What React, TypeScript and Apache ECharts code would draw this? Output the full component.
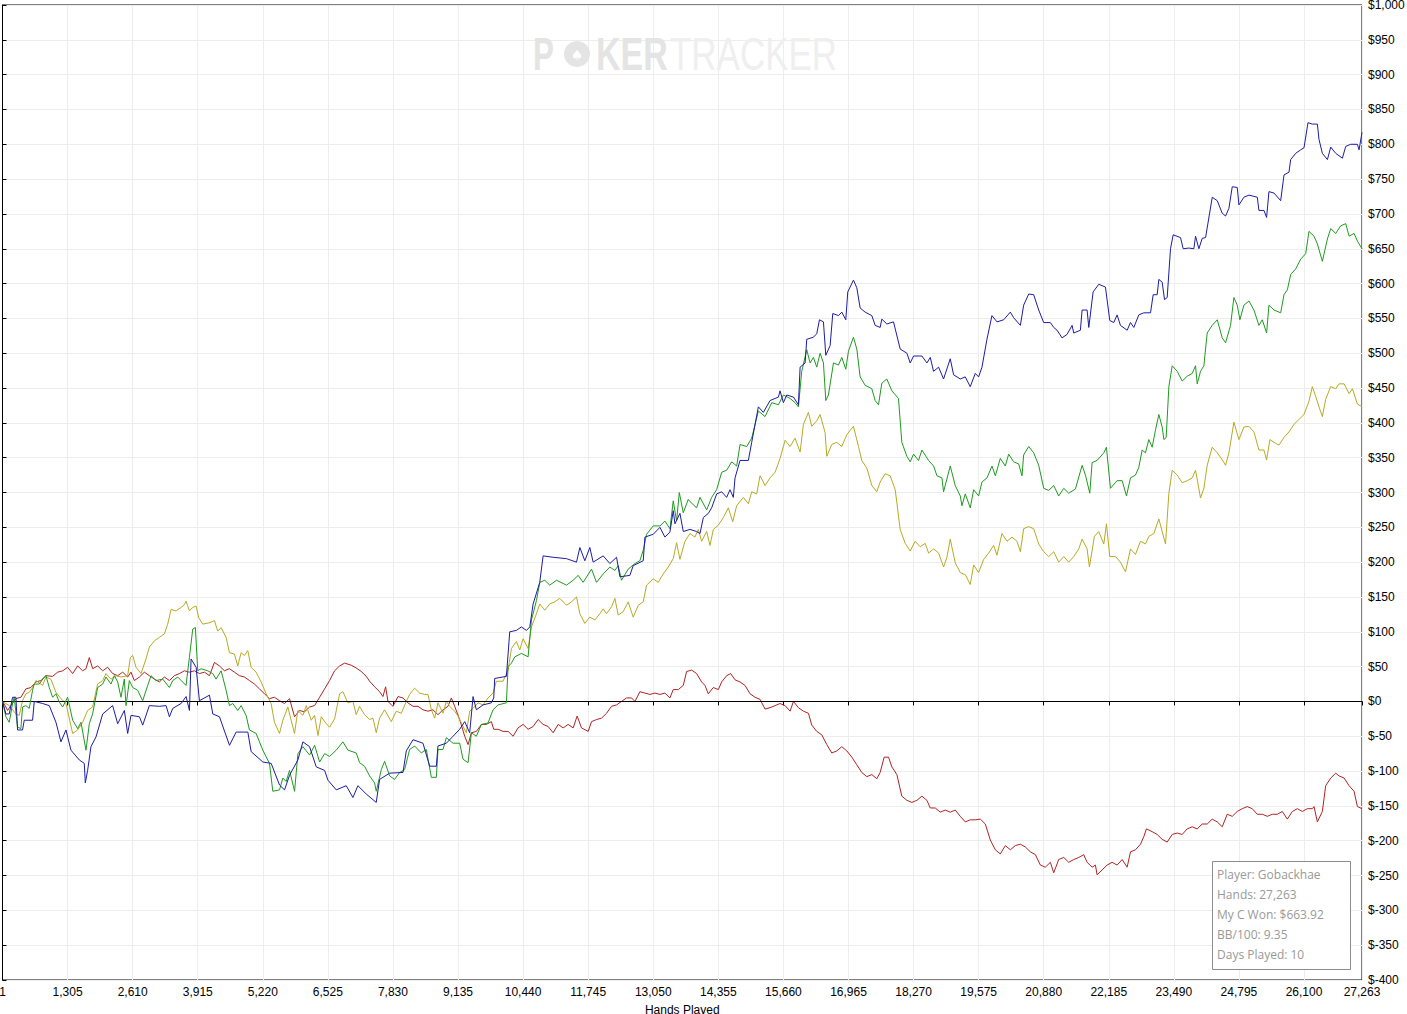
import React, { useEffect, useRef } from "react";
import * as echarts from "echarts";

// ---- axis ticks ----
const handTicks = [1, 1305, 2610, 3915, 5220, 6525, 7830, 9135, 10440, 11745, 13050, 14355, 15660, 16965, 18270, 19575, 20880, 22185, 23490, 24795, 26100, 27263];
const totalHands = 27263;
const yMin = -400;
const yMax = 1000;
const yStep = 50;

// ---- series (hand, $) ----
const totalWon: [number, number][] = [
  [1,0],[68,-18],[135,-18],[202,6],[269,6],[302,-41],[402,-41],[436,-27],[603,-27],[637,0],[804,-3],[938,-6],[1072,-30],[1172,-58],[1273,-41],[1373,-70],[1540,-84],[1640,-89],[1661,-117],[1707,-99],[1774,-65],[1875,-51],[2009,-18],[2209,-6],[2310,-32],[2444,-13],[2510,-46],[2577,-20],[2745,-22],[2812,-34],[2945,-6],[3146,-7],[3280,-6],[3347,-22],[3414,-10],[3581,-3],[3682,7],[3749,-13],[3782,61],[3883,49],[3949,1],[4150,9],[4217,-18],[4351,-22],[4552,-63],[4685,-44],[4920,-44],[4986,-72],[5221,-87],[5388,-89],[5555,-120],[5656,-127],[5756,-106],[5924,-84],[6024,-58],[6158,-65],[6292,-94],[6459,-99],[6526,-113],[6693,-127],[6893,-121],[7027,-138],[7127,-121],[7295,-133],[7495,-145],[7562,-112],[7763,-103],[8031,-102],[8098,-71],[8232,-55],[8432,-60],[8566,-93],[8700,-93],[8733,-64],[8901,-60],[9035,-50],[9168,-40],[9269,-29],[9369,-45],[9436,7],[9503,-12],[9637,-5],[9804,-2],[9851,5],[9871,33],[10105,36],[10172,100],[10306,102],[10406,107],[10507,102],[10574,107],[10641,140],[10774,171],[10841,209],[11042,207],[11310,205],[11511,200],[11578,221],[11678,202],[11778,221],[11845,200],[12046,209],[12180,198],[12314,207],[12381,179],[12581,181],[12648,195],[12849,202],[12883,236],[13050,240],[13184,250],[13284,236],[13384,243],[13451,274],[13485,255],[13585,270],[13652,244],[13786,247],[13920,244],[13987,241],[14054,264],[14154,270],[14221,278],[14322,298],[14422,301],[14522,293],[14589,304],[14656,293],[14690,321],[14790,346],[14957,346],[15024,372],[15158,423],[15258,415],[15392,432],[15560,437],[15593,446],[15660,429],[15727,440],[15861,437],[15961,426],[15995,480],[16095,486],[16128,520],[16262,523],[16329,528],[16383,548],[16463,545],[16510,497],[16597,511],[16650,557],[16764,554],[16831,559],[16911,548],[16951,588],[17065,605],[17132,594],[17199,565],[17299,559],[17433,554],[17500,540],[17600,537],[17634,549],[17734,542],[17868,545],[18002,506],[18136,500],[18203,486],[18270,496],[18437,496],[18538,486],[18605,494],[18671,474],[18772,480],[18872,463],[19006,492],[19073,469],[19207,463],[19307,466],[19407,452],[19508,471],[19575,466],[19642,480],[19742,520],[19842,554],[19943,545],[20077,548],[20210,559],[20277,551],[20412,540],[20478,569],[20579,585],[20679,584],[20780,562],[20880,544],[21014,544],[21081,537],[21148,533],[21248,522],[21348,527],[21449,540],[21482,529],[21616,533],[21650,562],[21750,562],[21784,537],[21871,588],[21984,599],[22118,595],[22205,547],[22285,544],[22352,555],[22419,540],[22553,533],[22620,544],[22687,537],[22787,555],[22888,558],[23022,558],[23075,584],[23155,584],[23189,606],[23256,602],[23303,577],[23356,580],[23423,650],[23476,670],[23624,666],[23677,650],[23791,651],[23891,650],[23925,668],[23992,650],[24059,665],[24126,666],[24260,724],[24360,719],[24460,701],[24527,697],[24594,708],[24661,739],[24761,738],[24795,713],[24895,724],[24996,727],[25163,724],[25196,705],[25297,705],[25350,695],[25397,732],[25498,730],[25632,719],[25699,756],[25799,760],[25832,778],[25933,787],[26033,792],[26100,795],[26180,831],[26267,829],[26368,829],[26401,807],[26468,787],[26569,778],[26636,796],[26736,787],[26870,780],[26937,797],[27037,800],[27171,800],[27204,792],[27263,817]
];

const wonWithoutRake: [number, number][] = [
  [1,0],[68,-22],[135,-30],[202,-3],[235,6],[302,-37],[369,-39],[402,-8],[469,-6],[536,-10],[603,16],[637,25],[737,25],[837,35],[871,37],[938,20],[1005,6],[1072,11],[1139,-1],[1206,-8],[1306,6],[1407,-27],[1507,-39],[1574,-30],[1674,-70],[1741,-32],[1807,-18],[1908,20],[2009,25],[2075,35],[2176,25],[2243,37],[2310,28],[2376,6],[2443,32],[2477,-6],[2544,30],[2611,20],[2711,16],[2811,1],[2912,23],[2979,37],[3079,30],[3213,32],[3347,20],[3414,30],[3514,35],[3681,23],[3748,63],[3815,104],[3868,106],[3915,44],[3982,47],[4116,44],[4217,40],[4283,32],[4384,44],[4484,16],[4551,-6],[4618,-3],[4718,-13],[4785,-6],[4885,-20],[4952,-41],[5086,-46],[5220,-70],[5354,-89],[5421,-129],[5555,-127],[5622,-110],[5689,-115],[5756,-99],[5857,-129],[5924,-75],[6024,-65],[6158,-77],[6259,-63],[6359,-87],[6459,-75],[6559,-79],[6693,-70],[6827,-58],[6927,-70],[7094,-74],[7161,-88],[7261,-93],[7362,-107],[7462,-117],[7495,-129],[7596,-98],[7663,-86],[7763,-107],[7863,-112],[7964,-102],[8064,-98],[8164,-69],[8265,-64],[8399,-74],[8499,-69],[8600,-109],[8700,-109],[8733,-69],[8834,-69],[8901,-52],[9035,-60],[9168,-60],[9235,-83],[9336,-88],[9403,-45],[9503,-50],[9603,-33],[9737,-31],[9837,-12],[9938,-5],[10105,-2],[10139,50],[10206,55],[10273,64],[10406,69],[10540,64],[10608,117],[10708,145],[10775,171],[10875,174],[10975,167],[11109,174],[11310,167],[11444,174],[11544,181],[11644,171],[11812,190],[11912,171],[12046,183],[12180,193],[12281,188],[12347,195],[12414,174],[12548,190],[12682,198],[12782,202],[12849,217],[12916,240],[13050,252],[13184,252],[13284,259],[13384,248],[13451,288],[13518,259],[13572,300],[13652,271],[13752,290],[13786,287],[13920,278],[13987,293],[14121,275],[14221,293],[14321,304],[14422,329],[14522,332],[14623,344],[14723,338],[14790,369],[14924,366],[15024,378],[15158,417],[15292,409],[15426,429],[15560,426],[15660,440],[15794,435],[15894,429],[15961,423],[16028,474],[16128,505],[16195,486],[16262,494],[16329,480],[16396,500],[16463,486],[16510,432],[16563,440],[16664,486],[16764,483],[16831,494],[16911,477],[16965,503],[17065,523],[17132,506],[17199,466],[17299,454],[17433,449],[17500,432],[17567,426],[17634,457],[17734,463],[17835,446],[17968,435],[18035,372],[18136,352],[18203,344],[18270,355],[18370,346],[18437,361],[18571,346],[18672,338],[18739,324],[18839,321],[18872,301],[19006,338],[19106,310],[19207,295],[19240,281],[19307,298],[19407,278],[19475,304],[19575,295],[19642,315],[19742,321],[19843,338],[19910,324],[20010,349],[20110,338],[20177,355],[20277,344],[20378,341],[20445,324],[20478,354],[20579,366],[20679,357],[20780,339],[20880,306],[20980,303],[21081,310],[21181,295],[21282,306],[21382,299],[21516,305],[21650,339],[21717,325],[21804,299],[21851,343],[21951,346],[22085,357],[22138,365],[22218,306],[22352,317],[22453,317],[22540,295],[22620,321],[22720,325],[22787,336],[22854,361],[22921,357],[22988,376],[23055,365],[23122,390],[23189,412],[23256,394],[23290,376],[23336,379],[23390,452],[23457,482],[23557,474],[23657,460],[23758,467],[23858,471],[23925,482],[23958,456],[24025,474],[24092,482],[24159,529],[24259,540],[24360,548],[24460,522],[24527,515],[24627,540],[24694,580],[24761,569],[24814,548],[24895,569],[24996,575],[25096,562],[25196,540],[25263,548],[25350,529],[25397,569],[25498,562],[25632,558],[25699,584],[25766,591],[25833,613],[25933,621],[26033,635],[26134,643],[26200,675],[26301,668],[26368,657],[26468,632],[26569,664],[26636,679],[26736,672],[26837,683],[26937,686],[27004,668],[27104,672],[27171,661],[27263,650]
];

const showdownWon: [number, number][] = [
  [1,0],[135,-6],[269,-18],[336,-20],[402,1],[469,11],[536,13],[603,20],[670,30],[804,23],[871,35],[971,32],[1072,13],[1172,4],[1273,-3],[1407,-46],[1507,-41],[1607,-30],[1707,-13],[1807,-8],[1908,25],[2009,30],[2075,40],[2176,32],[2277,37],[2377,35],[2510,37],[2564,63],[2611,66],[2678,49],[2778,40],[2878,61],[2945,78],[3046,87],[3146,92],[3246,97],[3313,111],[3380,132],[3481,130],[3581,135],[3648,139],[3681,144],[3748,130],[3815,135],[3882,137],[3936,120],[4016,111],[4150,113],[4250,116],[4317,101],[4384,106],[4484,92],[4551,70],[4651,68],[4718,51],[4785,70],[4852,66],[4919,73],[4986,49],[5086,42],[5186,28],[5287,11],[5387,-3],[5454,-30],[5555,-46],[5622,-27],[5722,-8],[5789,-27],[5856,-46],[5923,-13],[6024,-20],[6091,-6],[6192,-27],[6259,-20],[6326,-49],[6393,-22],[6493,-32],[6559,-37],[6660,-25],[6760,11],[6826,14],[6926,-2],[7027,0],[7094,-19],[7161,-7],[7261,-19],[7362,-26],[7429,-24],[7495,-45],[7562,-24],[7663,-12],[7797,-29],[7897,-14],[7997,-17],[8098,0],[8164,10],[8265,19],[8365,12],[8466,10],[8533,10],[8600,-12],[8667,-24],[8733,-2],[8834,-17],[8901,0],[8968,-7],[9068,-14],[9135,-21],[9235,-36],[9302,-45],[9369,-14],[9436,-10],[9537,-2],[9637,-5],[9737,5],[9837,12],[9904,29],[10038,29],[10139,45],[10206,76],[10306,86],[10373,74],[10440,90],[10540,76],[10608,107],[10708,126],[10774,140],[10875,131],[10975,140],[11076,143],[11176,148],[11310,138],[11410,143],[11511,150],[11578,126],[11678,112],[11778,121],[11879,117],[11979,126],[12046,133],[12113,126],[12214,136],[12281,148],[12347,124],[12448,129],[12548,143],[12648,121],[12749,138],[12849,143],[12916,167],[13050,176],[13150,171],[13250,183],[13351,193],[13451,205],[13518,228],[13585,204],[13686,230],[13786,241],[13886,236],[13953,247],[14020,230],[14121,244],[14188,224],[14255,247],[14355,253],[14455,264],[14555,278],[14643,258],[14723,281],[14857,293],[14957,284],[15024,301],[15124,298],[15191,324],[15292,310],[15392,321],[15493,329],[15593,349],[15694,375],[15794,366],[15894,378],[15995,358],[16062,398],[16162,415],[16229,395],[16329,403],[16396,412],[16496,386],[16530,352],[16630,369],[16731,372],[16831,366],[16931,383],[17065,395],[17166,366],[17232,346],[17333,335],[17433,310],[17533,301],[17600,315],[17701,327],[17801,324],[17902,304],[18002,247],[18102,227],[18203,216],[18303,230],[18404,222],[18504,227],[18571,213],[18672,219],[18772,213],[18872,193],[18939,207],[19006,233],[19106,199],[19207,185],[19307,182],[19407,168],[19475,196],[19575,185],[19676,204],[19776,213],[19876,224],[19943,210],[20043,241],[20144,230],[20244,236],[20344,230],[20412,215],[20478,248],[20579,251],[20679,248],[20780,226],[20880,215],[20980,208],[21081,215],[21181,200],[21282,208],[21382,200],[21482,208],[21583,219],[21650,233],[21750,219],[21797,193],[21897,237],[21984,244],[22085,226],[22138,255],[22205,208],[22319,208],[22419,200],[22520,186],[22620,219],[22720,211],[22821,230],[22921,226],[22988,237],[23088,241],[23189,262],[23256,244],[23323,226],[23390,299],[23457,332],[23557,325],[23658,314],[23758,317],[23858,321],[23925,332],[24025,292],[24092,306],[24159,339],[24259,365],[24360,357],[24460,347],[24527,339],[24594,357],[24694,401],[24795,376],[24895,394],[24996,395],[25096,387],[25196,361],[25297,361],[25350,347],[25417,376],[25498,372],[25598,368],[25699,379],[25799,387],[25900,398],[26000,405],[26100,412],[26200,431],[26267,452],[26334,438],[26401,423],[26468,409],[26535,434],[26636,452],[26736,449],[26803,456],[26904,456],[27004,442],[27071,449],[27171,427],[27263,423]
];

const nonShowdownWon: [number, number][] = [
  [1,0],[68,-8],[101,-13],[168,-6],[269,4],[369,6],[469,18],[570,20],[670,28],[771,30],[871,37],[1005,36],[1105,42],[1206,44],[1306,49],[1407,40],[1507,51],[1607,44],[1674,47],[1741,63],[1808,47],[1908,51],[2009,44],[2109,49],[2209,40],[2310,37],[2410,42],[2510,35],[2577,42],[2644,30],[2745,35],[2845,42],[2945,37],[3046,32],[3146,28],[3246,35],[3347,30],[3447,37],[3547,40],[3648,44],[3748,42],[3849,44],[3949,40],[4049,42],[4150,37],[4250,56],[4350,51],[4451,44],[4551,47],[4651,42],[4752,37],[4852,35],[4952,30],[5053,25],[5153,18],[5254,11],[5354,4],[5454,6],[5555,1],[5655,-3],[5756,4],[5856,-22],[5957,-13],[6057,-15],[6158,-8],[6258,-6],[6359,6],[6459,18],[6559,30],[6660,44],[6760,51],[6860,55],[6994,52],[7094,48],[7194,43],[7295,36],[7362,29],[7462,21],[7562,14],[7629,7],[7683,21],[7730,0],[7830,-7],[7931,7],[8031,5],[8131,-2],[8232,-7],[8332,-7],[8432,-12],[8533,-14],[8633,-12],[8733,-19],[8834,-12],[8934,-7],[9001,5],[9068,-7],[9168,-26],[9269,-50],[9336,-62],[9403,-45],[9503,-43],[9603,-33],[9704,-33],[9804,-29],[9851,-40],[9938,-40],[10038,-43],[10139,-43],[10239,-50],[10339,-38],[10440,-33],[10540,-40],[10641,-36],[10741,-26],[10841,-33],[10942,-36],[11042,-45],[11143,-33],[11243,-38],[11343,-33],[11444,-38],[11524,-21],[11611,-38],[11745,-43],[11812,-29],[11912,-26],[12013,-24],[12113,-17],[12213,-7],[12314,-5],[12414,0],[12514,5],[12615,5],[12682,0],[12782,14],[12883,12],[12983,10],[13083,12],[13184,10],[13284,12],[13384,5],[13451,17],[13552,17],[13652,23],[13719,43],[13819,45],[13920,40],[14020,28],[14087,23],[14154,11],[14255,20],[14355,17],[14422,28],[14522,37],[14602,40],[14690,31],[14790,28],[14890,23],[14991,11],[15091,6],[15191,3],[15292,-11],[15392,-9],[15493,-6],[15593,-3],[15694,-6],[15794,-14],[15861,0],[15961,-9],[16062,-14],[16162,-17],[16229,-34],[16329,-43],[16430,-48],[16530,-62],[16630,-74],[16731,-71],[16831,-65],[16931,-71],[17032,-80],[17132,-91],[17232,-102],[17333,-108],[17433,-105],[17533,-111],[17600,-102],[17681,-80],[17768,-80],[17835,-94],[17935,-105],[18035,-136],[18136,-142],[18236,-145],[18337,-142],[18437,-136],[18538,-142],[18605,-153],[18705,-153],[18805,-159],[18906,-156],[19006,-159],[19106,-156],[19207,-165],[19307,-173],[19407,-170],[19508,-170],[19609,-169],[19709,-176],[19809,-199],[19910,-213],[20010,-219],[20110,-207],[20211,-213],[20311,-207],[20412,-205],[20512,-209],[20612,-216],[20713,-220],[20813,-235],[20913,-238],[21014,-231],[21081,-246],[21181,-227],[21282,-224],[21382,-231],[21482,-227],[21583,-224],[21683,-220],[21750,-231],[21851,-238],[21917,-235],[21951,-249],[22051,-242],[22152,-235],[22252,-231],[22352,-235],[22453,-227],[22553,-238],[22620,-216],[22720,-213],[22821,-205],[22888,-194],[22941,-183],[23055,-187],[23155,-191],[23256,-198],[23356,-202],[23457,-191],[23557,-189],[23657,-191],[23758,-183],[23858,-180],[23958,-183],[24059,-176],[24159,-176],[24259,-169],[24360,-173],[24460,-180],[24560,-162],[24661,-165],[24761,-158],[24862,-154],[24962,-151],[25062,-154],[25163,-162],[25263,-162],[25364,-165],[25464,-162],[25564,-162],[25665,-158],[25765,-169],[25866,-158],[25966,-154],[26066,-158],[26167,-154],[26267,-154],[26301,-151],[26368,-173],[26468,-158],[26535,-121],[26636,-110],[26736,-103],[26803,-107],[26904,-110],[27004,-121],[27104,-129],[27171,-151],[27263,-154]
];

const infoLines = ["Player: Gobackhae", "Hands: 27,263", "My C Won: $663.92", "BB/100: 9.35", "Days Played: 10"];

const fmtMoney = (v: number) => "$" + (v < 0 ? "-" + Math.abs(v).toLocaleString("en-US") : v.toLocaleString("en-US"));

export default function App() {
  const ref = useRef<HTMLDivElement>(null);
  useEffect(() => {
    document.body.style.margin = "0";
    if (!ref.current) return;
    const chart = echarts.init(ref.current, undefined, { renderer: "svg" });
    const axisFont = { fontFamily: "Liberation Sans", fontSize: 12, color: "#000" };
    const wm = "#e4e4e4";
    const wm2 = "#efefef";
    const mkLine = (name: string, data: [number, number][], color: string, z: number, extra: any = {}) => ({
      name,
      type: "line",
      data,
      symbol: "none",
      showSymbol: false,
      silent: true,
      z,
      lineStyle: { color, width: 1 },
      ...extra,
    });
    chart.setOption({
      animation: false,
      backgroundColor: "#fff",
      grid: {
        left: 2.5, top: 5, right: 45, bottom: 34,
        outerBoundsMode: "none",
        containLabel: false,
        show: true, borderColor: "#000", borderWidth: 1, backgroundColor: "transparent",
      },
      xAxis: {
        type: "value",
        min: 0,
        max: totalHands,
        interval: 1305,
        name: "Hands Played",
        nameLocation: "middle",
        nameGap: 24,
        nameTextStyle: { fontFamily: "Liberation Sans", fontSize: 12, color: "#000" },
        axisLine: { show: true, lineStyle: { color: "#000", width: 1 } },
        axisTick: { show: true, length: 4, lineStyle: { color: "#000" } },
        axisLabel: {
          ...axisFont,
          margin: 6,
          showMinLabel: true,
          showMaxLabel: true,
          formatter: (v: number) => {
            const t = v === 0 ? handTicks[0] : v;
            return t.toLocaleString("en-US");
          },
        },
        splitLine: { show: true, lineStyle: { color: "#ededed", width: 1 } },
      },
      yAxis: {
        type: "value",
        position: "right",
        min: yMin,
        max: yMax,
        interval: yStep,
        axisLine: { show: true, lineStyle: { color: "#000", width: 1 } },
        axisTick: { show: true, length: 4, lineStyle: { color: "#000" } },
        axisLabel: { ...axisFont, margin: 6, formatter: fmtMoney },
        splitLine: { show: true, lineStyle: { color: "#ededed", width: 1 } },
      },
      graphic: [
        { type: "text", z: 1, silent: true, x: 533, y: 54, scaleX: 0.68, style: { text: "P", fill: wm, font: "bold 46px 'Liberation Sans'", textVerticalAlign: "middle" } },
        { type: "circle", z: 1, silent: true, shape: { cx: 577, cy: 54, r: 13 }, style: { fill: wm } },
        { type: "text", z: 1, silent: true, x: 577, y: 55, style: { text: "\u2660", fill: "#fff", font: "14px 'DejaVu Sans'", textAlign: "center", textVerticalAlign: "middle" } },
        { type: "text", z: 1, silent: true, x: 596, y: 54, scaleX: 0.74, style: { text: "KER", fill: wm, font: "bold 46px 'Liberation Sans'", textVerticalAlign: "middle" } },
        { type: "text", z: 1, silent: true, x: 670, y: 54, scaleX: 0.76, style: { text: "TRACKER", fill: wm2, font: "46px 'Liberation Sans'", textVerticalAlign: "middle" } },
        { type: "rect", z: 100, silent: true, shape: { x: 1212.5, y: 861.5, width: 138, height: 108 }, style: { fill: "#fff", stroke: "#8c8c8c", lineWidth: 1 } },
        ...infoLines.map((t, i) => ({
          type: "text",
          z: 101,
          silent: true,
          x: 1217,
          y: 874 + i * 20,
          style: { text: t, fill: "#999", font: "12px 'Open Sans'", textVerticalAlign: "middle" },
        })),
      ],
      series: [
        mkLine("Non-Showdown Winnings", nonShowdownWon, "#b02222", 3, {
          markLine: {
            silent: true,
            symbol: "none",
            label: { show: false },
            lineStyle: { color: "#000", width: 1, type: "solid" },
            data: [{ yAxis: 0 }],
          },
        }),
        mkLine("Showdown Winnings", showdownWon, "#b8aa22", 4),
        mkLine("Winnings w/o Rake", wonWithoutRake, "#1f9a1f", 5),
        mkLine("Total Winnings", totalWon, "#1c1ca6", 6),
      ],
    });
    return () => chart.dispose();
  }, []);
  return <div ref={ref} style={{ position: "absolute", left: 0, top: 0, width: 1407, height: 1014 }} />;
}
